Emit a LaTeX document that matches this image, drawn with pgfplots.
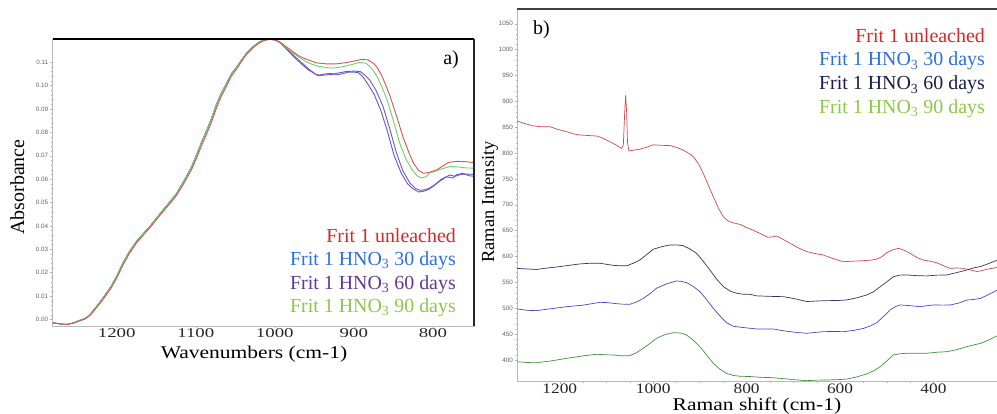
\documentclass[border=0pt]{standalone}
\usepackage{pgfplots}
\pgfplotsset{compat=1.18}
\usepackage{fontspec}
\setmainfont{Liberation Serif}
\setsansfont{Liberation Sans}
\newfontfamily\tickL[FakeStretch=1.4]{Liberation Serif}
\newfontfamily\tickR[FakeStretch=1.2]{Liberation Serif}
\newfontfamily\labfont[FakeStretch=1.2]{Liberation Serif}
\definecolor{lred}{RGB}{225,80,80}
\definecolor{lgreen}{RGB}{100,215,100}
\definecolor{lpurp}{RGB}{120,80,195}
\definecolor{lblue}{RGB}{90,90,215}
\definecolor{rred}{RGB}{215,70,70}
\definecolor{rnavy}{RGB}{50,50,110}
\definecolor{rblue}{RGB}{70,70,200}
\definecolor{rgreen}{RGB}{55,150,55}
\definecolor{tred}{RGB}{225,35,35}
\definecolor{tblue}{RGB}{45,110,225}
\definecolor{tpurp}{RGB}{100,55,150}
\definecolor{tnavy}{RGB}{25,30,70}
\definecolor{tgreen}{RGB}{140,200,70}
\pgfplotsset{
  common/.style={
    scale only axis, x dir=reverse,
    axis line style={draw=gray!55, line width=0.5pt},
    tick style={gray!60, line width=0.4pt},
    major tick length=2.5pt, minor tick length=1.5pt,
    tick align=outside, xtick pos=bottom, ytick pos=left,
    /pgf/number format/assume math mode=true,
    /pgf/number format/1000 sep={},
    yticklabel style={font=\sffamily\fontsize{6.3}{7}\selectfont, text=gray!75!black, xshift=1.5pt},
    xticklabel style={text=black!85},
    every axis plot/.append style={no marks, line join=round},
  }
}
\begin{document}
\begin{tikzpicture}
\path[use as bounding box] (0bp,0bp) rectangle (997bp,414bp);
% ---------------- left panel ----------------
\begin{axis}[common, name=A, at={(52.7bp,88bp)}, anchor=south west,
  width=421.3bp, height=286.7bp,
  xmin=748, xmax=1281, ymin=-0.0028, ymax=0.1198,
  xtick={800,900,1000,1100,1200}, minor x tick num=3,
  ytick={0,0.01,0.02,0.03,0.04,0.05,0.06,0.07,0.08,0.09,0.10,0.11}, minor y tick num=4,
  yticklabel style={/pgf/number format/.cd, fixed, fixed zerofill, precision=2},
  xticklabel style={font=\tickL\fontsize{13.5}{14}\selectfont, yshift=3.5pt},
  every axis plot/.append style={line width=0.9pt},
]
\addplot[lblue] coordinates {(1281,-0.0014)(1270,-0.0020)(1262,-0.0021)(1255,-0.0015)(1247,-0.0004)(1240,0.0004)(1234,0.002)(1228,0.0045)(1221,0.0075)(1214,0.0108)(1207,0.0142)(1200,0.0185)(1192,0.0242)(1184,0.029)(1175,0.0334)(1166,0.0368)(1158,0.0398)(1150,0.0432)(1141,0.047)(1132,0.0506)(1124,0.054)(1118,0.0575)(1112,0.061)(1105,0.0655)(1099,0.0704)(1093,0.0755)(1086,0.081)(1080,0.086)(1074,0.0918)(1068,0.0965)(1061,0.101)(1055,0.105)(1048,0.108)(1042,0.111)(1036,0.1138)(1028,0.1165)(1019,0.1188)(1012,0.1196)(1006,0.1198)(1000,0.1195)(994,0.1185)
(985,0.1155)(975,0.112)(966,0.1092)(958,0.1068)(950,0.1052)(945,0.1042)(938,0.1045)(930,0.1047)(922,0.1046)(915,0.105)(908,0.1057)(900,0.1058)(894,0.1055)(888,0.1035)(882,0.1005)(874,0.096)(866,0.0895)(858,0.081)(849,0.070)(840,0.0625)(832,0.058)(825,0.0558)(818,0.0545)(812,0.0548)(806,0.0555)(800,0.0568)(794,0.0585)(786,0.0603)(779,0.0618)(772,0.0612)(765,0.062)(758,0.0622)(748,0.062)};
\addplot[lpurp] coordinates {(1281,-0.0014)(1270,-0.0020)(1262,-0.0021)(1255,-0.0015)(1247,-0.0004)(1240,0.0004)(1234,0.002)(1228,0.0045)(1221,0.0075)(1214,0.0108)(1207,0.0142)(1200,0.0185)(1192,0.0242)(1184,0.029)(1175,0.0334)(1166,0.0368)(1158,0.0398)(1150,0.0432)(1141,0.047)(1132,0.0506)(1124,0.054)(1118,0.0575)(1112,0.061)(1105,0.0655)(1099,0.0704)(1093,0.0755)(1086,0.081)(1080,0.086)(1074,0.0918)(1068,0.0965)(1061,0.101)(1055,0.105)(1048,0.108)(1042,0.111)(1036,0.1138)(1028,0.1165)(1019,0.1188)(1012,0.1196)(1006,0.1198)(1000,0.1195)(994,0.1185)
(985,0.1158)(975,0.1125)(966,0.1098)(960,0.108)(955,0.1065)(948,0.1048)(943,0.1045)(936,0.105)(930,0.1052)(926,0.105)(918,0.1055)(910,0.106)(900,0.1062)(892,0.106)(886,0.1045)(880,0.1024)(872,0.098)(863,0.091)(855,0.082)(846,0.0711)(838,0.0635)(829,0.0583)(822,0.056)(816,0.0552)(810,0.0555)(804,0.0562)(797,0.0578)(790,0.0598)(783,0.061)(775,0.0605)(770,0.0619)(762,0.0625)(755,0.0615)(748,0.0612)};
\addplot[lgreen] coordinates {(1281,-0.0014)(1270,-0.0020)(1262,-0.0021)(1255,-0.0015)(1247,-0.0004)(1240,0.0004)(1234,0.002)(1228,0.0045)(1221,0.0075)(1214,0.0108)(1207,0.0142)(1200,0.0185)(1192,0.0242)(1184,0.029)(1175,0.0334)(1166,0.0368)(1158,0.0398)(1150,0.0432)(1141,0.047)(1132,0.0506)(1124,0.054)(1118,0.0575)(1112,0.061)(1105,0.0655)(1099,0.0704)(1093,0.0755)(1086,0.081)(1080,0.086)(1074,0.0918)(1068,0.0965)(1061,0.101)(1055,0.105)(1048,0.108)(1042,0.111)(1036,0.1138)(1028,0.1165)(1019,0.1188)(1012,0.1196)(1006,0.1198)(1000,0.1195)(994,0.1185)
(985,0.116)(975,0.1135)(968,0.1118)(958,0.1098)(947,0.1084)(935,0.1077)(926,0.1075)(915,0.108)(905,0.1088)(892,0.110)(884,0.1095)(876,0.1067)(870,0.1035)(864,0.099)(858,0.0939)(850,0.085)(842,0.0754)(834,0.0685)(825,0.0633)(819,0.0612)(814,0.0605)(809,0.061)(804,0.0626)(796,0.0635)(788,0.0645)(778,0.0654)(768,0.0652)(758,0.0648)(748,0.0647)};
\addplot[lred] coordinates {(1281,-0.0014)(1270,-0.0020)(1262,-0.0021)(1255,-0.0016)(1247,-0.0006)(1240,0.0002)(1234,0.0017)(1228,0.0040)(1221,0.0069)(1214,0.0101)(1207,0.0135)(1200,0.0177)(1192,0.0233)(1184,0.0282)(1175,0.0327)(1166,0.0362)(1158,0.0392)(1150,0.0426)(1141,0.0463)(1132,0.0498)(1124,0.0532)(1118,0.0565)(1112,0.060)(1105,0.0643)(1099,0.0690)(1093,0.0740)(1086,0.0795)(1080,0.0845)(1074,0.0902)(1068,0.0952)(1061,0.0998)(1055,0.1040)(1048,0.1072)(1042,0.1104)(1036,0.1132)(1028,0.1160)(1019,0.1184)(1012,0.1194)(1006,0.1198)(1000,0.1196)(994,0.1188)
(985,0.1165)(975,0.114)(968,0.1124)(958,0.111)(947,0.1097)(935,0.1093)(922,0.1093)(910,0.1098)(900,0.1105)(890,0.1112)(882,0.111)(875,0.1095)(871,0.108)(865,0.1045)(860,0.1005)(854,0.0953)(846,0.087)(838,0.0782)(830,0.071)(824,0.0665)(818,0.0637)(812,0.0625)(806,0.0628)(800,0.0634)(795,0.064)(788,0.0655)(780,0.0672)(770,0.0676)(760,0.0675)(748,0.0671)};
\end{axis}
\draw[black, line width=1.8pt] (A.north west) -- (A.north east);
\draw[black!85, line width=1.3pt] (A.north east) -- (A.south east);
% ---------------- right panel ----------------
\begin{axis}[common, name=B, at={(517.3bp,32.3bp)}, anchor=south west,
  width=479.7bp, height=372.4bp,
  xmin=264, xmax=1291, ymin=358, ymax=1078,
  xtick={400,600,800,1000,1200}, minor x tick num=3,
  ytick={400,450,500,550,600,650,700,750,800,850,900,950,1000,1050}, minor y tick num=4,
  xticklabel style={font=\tickR\fontsize{14.5}{15}\selectfont, yshift=4pt},
  every axis plot/.append style={line width=0.7pt},
]
\addplot[rred] coordinates {(1291,862)(1275,857)(1257,852.6)(1240,851)(1221,851)(1205,846)(1186,841.6)(1170,837)(1157,835)(1140,834)(1121,833)(1108,829)(1093,822)(1080,816)(1068,809)(1064,815)(1061,880)(1059,912)(1057,880)(1055,820)(1052,804)(1046,805)(1029,807.5)(1015,811)(1000,816)(982,815)(964,814.5)(950,811)(936,806)(925,800)(914,793)(903,779)(893,761)(882,738)(871.5,716)(860,693)(850,677)(840,669)(828,665)(814,662)(800,656)(786,651)(770,644)(754,637)(745,638)(736,640)(722,633)(707,625.7)(690,617)(671,609.5)(655,606)(636,603)(615,596)(593,590)(572,591)(550,592)(535,593)(521.5,595)(510,600)(500,607.6)(487,613)(475,616)(462,612)(450,606)(435,598)(421.5,593)(407,591)(393,588)(378,582)(364,577)(350,578)(336,577)(320,574)(307,571)(296,573)(286,575.5)(275,577)(264,579)};
\addplot[rnavy] coordinates {(1291,577)(1270,576)(1250,575)(1225,578)(1200,580.5)(1180,583)(1157,585.7)(1135,587)(1114,587)(1100,585)(1086,583)(1070,582)(1057,582)(1043,587)(1029,593)(1015,603)(1000,614)(982,619)(964,622.4)(950,622.5)(936,621)(922,615)(907,606)(893,591)(878.6,574)(864,556)(850,542)(835,533)(821,529)(807,527)(793,527)(779,524)(750,523)(721.5,522.4)(700,519)(671.4,513)(650,514)(628.6,514.7)(605,515)(586,516)(565,520)(543,525.7)(528,532)(514,541.8)(500,551)(486,561)(472,564)(457,564.4)(435,563)(414,562.5)(393,564)(371.4,564.4)(350,569)(328.6,574)(314,578)(300,580.5)(283,586)(264,593)};
\addplot[rblue] coordinates {(1291,498.6)(1270,496)(1250,495.4)(1220,499)(1186,503)(1150,506)(1130,509)(1114,511.5)(1100,511)(1086,509.6)(1068,508)(1050,507.7)(1036,512)(1021.5,519)(1007,528)(993,538.7)(972,547)(950,552.8)(940,552)(928.6,549.5)(914,542)(900,532)(886,517)(871.5,500)(857,485)(843,472)(828,465)(814,463.5)(800,462)(779,460)(760,460)(743,460)(725,457)(707,454.8)(690,453)(671.4,451.6)(655,453)(636,454.8)(615,455)(593,454.8)(572,457)(550,461)(535,466)(521.5,472)(507,484)(493,496.7)(482,503)(471.4,506.4)(450,505)(428.6,503)(414,505)(400,506.4)(380,506)(364,506.4)(346,510)(328.6,516)(314,517)(300,519)(283,526)(264,535)};
\addplot[rgreen] coordinates {(1291,396.7)(1270,395)(1250,394.8)(1220,398)(1186,403)(1150,408)(1121,411)(1100,410)(1086,409.7)(1068,408)(1050,408.3)(1036,414)(1021.5,422.6)(1007,432)(993,442)(975,449)(957,452.8)(940,452)(928.6,448.4)(914,438)(900,425.7)(886,410)(871.5,393.6)(857,382)(843,374)(828,370)(814,368.5)(793,368)(771,366.5)(750,366)(729,364.6)(700,362)(671.4,360)(650,361)(628.6,361.3)(605,362)(586,363)(565,367)(543,373)(528,379)(514,387)(500,398)(486,409.7)(472,412)(457,413)(435,413)(414,413)(393,415)(371.4,416)(350,420)(328.6,425.7)(314,429)(300,432)(283,438)(264,446.4)};
\end{axis}
\draw[black!75, line width=1.8pt] (B.north west) -- (B.north east);
% ---------------- texts ----------------
\begin{scope}[every node/.style={inner sep=0pt, font=\fontsize{20}{22}\selectfont}]
\node[anchor=base east, text=tred]   at (456bp,171.7bp) {Frit 1 unleached};
\node[anchor=base east, text=tblue]  at (456bp,148.3bp) {Frit 1 HNO\textsubscript{3} 30 days};
\node[anchor=base east, text=tpurp]  at (456bp,124.7bp) {Frit 1 HNO\textsubscript{3} 60 days};
\node[anchor=base east, text=tgreen] at (456bp,101.3bp) {Frit 1 HNO\textsubscript{3} 90 days};
\node[anchor=base east] at (459bp,349bp) {a)};
\node[anchor=base, rotate=90] at (24bp,227bp) {Absorbance};
\node[anchor=base, font=\labfont\fontsize{18}{20}\selectfont] at (254bp,55bp) {Wavenumbers (cm-1)};
\node[anchor=base east, text=tred]   at (985bp,371.7bp) {Frit 1 unleached};
\node[anchor=base east, text=tblue]  at (985bp,348bp) {Frit 1 HNO\textsubscript{3} 30 days};
\node[anchor=base east, text=tnavy]  at (985bp,324bp) {Frit 1 HNO\textsubscript{3} 60 days};
\node[anchor=base east, text=tgreen] at (985bp,300.7bp) {Frit 1 HNO\textsubscript{3} 90 days};
\node[anchor=base west] at (533bp,379bp) {b)};
\node[anchor=base, rotate=90, font=\fontsize{18.5}{20}\selectfont] at (494bp,212bp) {Raman Intensity};
\node[anchor=base, font=\labfont\fontsize{18}{20}\selectfont] at (757bp,4bp) {Raman shift (cm-1)};
\end{scope}
\end{tikzpicture}
\end{document}
